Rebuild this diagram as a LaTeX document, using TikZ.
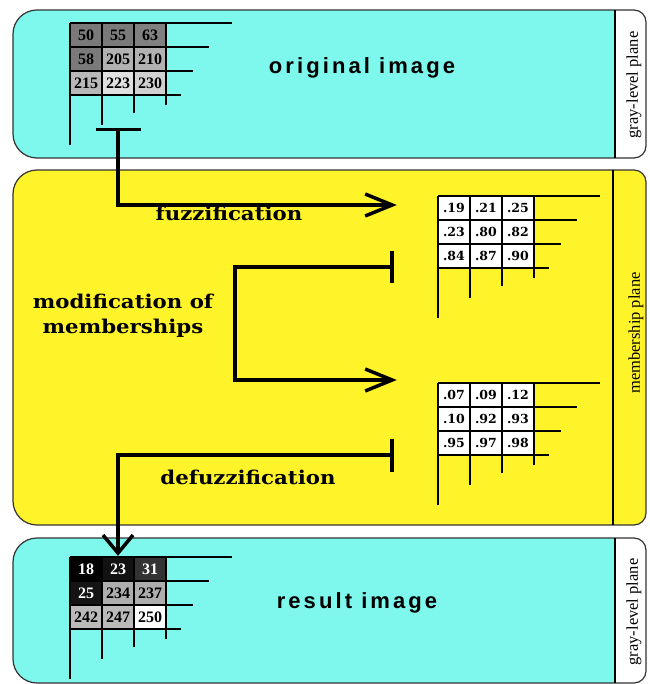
\documentclass[tikz,border=0pt]{standalone}
\usepackage{fontspec}
\setmainfont{Liberation Serif}
\newfontfamily\titlefont{Liberation Sans}[LetterSpace=14]
\newfontfamily\slabfont{DejaVu Serif}[FakeStretch=1.12]
\newfontfamily\cellfont{DejaVu Serif}
\usepackage{tikz}
\usetikzlibrary{arrows.meta, calc}

\definecolor{planecyan}{RGB}{126,247,237}
\definecolor{planeyellow}{RGB}{255,244,42}

\begin{document}
\begin{tikzpicture}[x=1pt, y=-1pt,
    panel/.style={draw=black!80, line width=1.2pt},
    gridline/.style={line width=2pt},
    cell/.style={minimum width=32pt, minimum height=24pt, inner sep=0pt,
        font=\fontsize{16}{16}\selectfont\bfseries},
    mcell/.style={cell, fill=white, font=\fontsize{12.5}{12.5}\selectfont\cellfont\bfseries},
    link/.style={line width=3.5pt},
    steplabel/.style={align=center, font=\fontsize{19}{25}\selectfont\slabfont\bfseries},
    title/.style={font=\fontsize{22}{22}\selectfont\titlefont\bfseries},
    planelabel/.style={rotate=90, font=\fontsize{16.5}{16.5}\selectfont}]
    \useasboundingbox (0,0) rectangle (649,684);

    % Planes: cyan for gray levels, yellow for memberships
    \foreach \top/\bot/\col/\side/\sep in {10/158/planecyan/white/615,
            170/525/planeyellow/planeyellow/613, 538/683/planecyan/white/615} {
        \begin{scope}
            \clip (330,\top) [rounded corners=12] -- (646,\top) -- (646,\bot)
                -- (330,\bot) [rounded corners=24] -- (13,\bot) -- (13,\top) -- cycle;
            \fill[\col] (13,\top) rectangle (\sep,\bot);
            \fill[\side] (\sep,\top) rectangle (646,\bot);
        \end{scope}
        \draw[panel] (330,\top) [rounded corners=12] -- (646,\top) -- (646,\bot)
            -- (330,\bot) [rounded corners=24] -- (13,\bot) -- (13,\top) -- cycle;
        \draw[line width=2pt] (\sep,\top) -- (\sep,\bot);
    }

    % Side labels
    \node[planelabel] (topplane) at (634,85) {gray-level plane};
    \node[planelabel] (midplane) at (636,333) {membership plane};
    \node[planelabel] (botplane) at (634,612) {gray-level plane};

    % Original image
    \foreach \v/\s [count=\k from 0] in {50/black!52, 55/black!52, 63/black!50,
            58/black!52, 205/black!30, 210/black!30,
            215/black!28, 223/black!12, 230/black!18} {
        \pgfmathtruncatemacro\c{mod(\k,3)}
        \pgfmathtruncatemacro\r{\k/3}
        \node[cell, fill=\s] (orig-\k) at (70+32*\c+16, 23+24*\r+12) {\v};
    }

    % Fuzzified memberships
    \foreach \v [count=\k from 0] in {.19,.21,.25,.23,.80,.82,.84,.87,.90} {
        \pgfmathtruncatemacro\c{mod(\k,3)}
        \pgfmathtruncatemacro\r{\k/3}
        \node[mcell] (fuzz-\k) at (438+32*\c+16, 196+24*\r+12) {\v};
    }

    % Modified memberships
    \foreach \v [count=\k from 0] in {.07,.09,.12,.10,.92,.93,.95,.97,.98} {
        \pgfmathtruncatemacro\c{mod(\k,3)}
        \pgfmathtruncatemacro\r{\k/3}
        \node[mcell] (mod-\k) at (438+32*\c+16, 383+24*\r+12) {\v};
    }

    % Result image
    \foreach \v/\s/\t [count=\k from 0] in {18/black/white, 23/black!93/white,
            31/black!80/white, 25/black!92/white, 234/black!32/black,
            237/black!32/black, 242/black!27/black, 247/black!27/black,
            250/white/black} {
        \pgfmathtruncatemacro\c{mod(\k,3)}
        \pgfmathtruncatemacro\r{\k/3}
        \node[cell, fill=\s, text=\t] (res-\k) at (70+32*\c+16, 557+24*\r+12) {\v};
    }

    % Grid lines running off to the back
    \foreach \gx/\gy in {70/23, 438/196, 438/383, 70/557} {
        \foreach \i/\len in {0/162, 1/139, 2/123, 3/111}
            \draw[gridline] (\gx,\gy+24*\i) -- ++(\len,0);
        \foreach \j/\len in {0/122, 1/102, 2/90, 3/82}
            \draw[gridline] (\gx+32*\j,\gy) -- ++(0,\len);
    }

    % Titles
    \node[title] (origtitle) at (362,68) {original image};
    \node[title] (restitle) at (357,603) {result image};

    % Connector ends
    \coordinate (fuzzout) at ($(orig-7)+(0,45)$);
    \coordinate (fuzzin) at ($(fuzz-3.west)+(-41,-27)$);
    \coordinate (modout) at ($(fuzz-6.west)+(-44,11)$);
    \coordinate (modin) at ($(mod-3.west)+(-41,-39)$);
    \coordinate (defout) at ($(mod-6.west)+(-44,12)$);
    \coordinate (defin) at ($(res-1.north)+(0,-1)$);

    % Fuzzification
    \draw[link, {Bar[width=45pt]}-{Straight Barb[length=27pt, width=22pt]}]
        (fuzzout) |- (fuzzin);
    \node[steplabel] (fuzzlabel) at (229,213) {fuzzification};

    % Modification
    \draw[link, {Bar[width=32pt]}-{Straight Barb[length=27pt, width=22pt]}]
        (modout) -- ++(-159,0) |- (modin);
    \node[steplabel] (modlabel) at (123,316) {modification of\\memberships};

    % Defuzzification
    \draw[link, {Bar[width=33pt]}-{Straight Barb[length=18pt, width=30pt]}]
        (defout) -| (defin);
    \node[steplabel] (deflabel) at (248,477) {defuzzification};
\end{tikzpicture}
\end{document}
